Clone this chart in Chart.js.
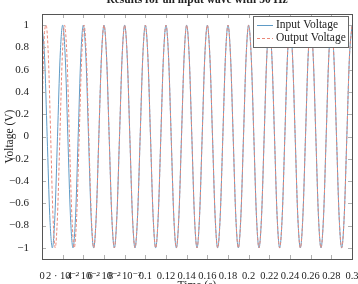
<!DOCTYPE html>
<html>
<head>
<meta charset="utf-8">
<script src="https://cdn.jsdelivr.net/npm/chart.js@4/dist/chart.umd.min.js"></script>
<style>
html,body{margin:0;padding:0;background:#fff;}
#wrap{width:358px;height:284px;position:relative;}
</style>
</head>
<body>
<div id="wrap"><canvas id="c" width="358" height="284"></canvas></div>
<script>
const chartTitle = "Results for an input wave with 50 Hz";
const xTitle = "Time (s)";
const yTitle = "Voltage (V)";
const seriesNames = ["Input Voltage", "Output Voltage"];

const xTicks = [0,0.02,0.04,0.06,0.08,0.1,0.12,0.14,0.16,0.18,0.2,0.22,0.24,0.26,0.28,0.3];
const xTickLabels = ["0","2 · 10⁻²","4 · 10⁻²","6 · 10⁻²","8 · 10⁻²","0.1","0.12","0.14","0.16","0.18","0.2","0.22","0.24","0.26","0.28","0.3"];
const yTicks = [-1,-0.8,-0.6,-0.4,-0.2,0,0.2,0.4,0.6,0.8,1];
const yTickLabels = ["−1","−0.8","−0.6","−0.4","−0.2","0","0.2","0.4","0.6","0.8","1"];

const inputTime = [
0,0.0025,0.005,0.0075,0.01,0.0125,0.015,0.0175,
0.02,0.0225,0.025,0.0275,0.03,0.0325,0.035,0.0375,
0.04,0.0425,0.045,0.0475,0.05,0.0525,0.055,0.0575,
0.06,0.0625,0.065,0.0675,0.07,0.0725,0.075,0.0775,
0.08,0.0825,0.085,0.0875,0.09,0.0925,0.095,0.0975,
0.1,0.1025,0.105,0.1075,0.11,0.1125,0.115,0.1175,
0.12,0.1225,0.125,0.1275,0.13,0.1325,0.135,0.1375,
0.14,0.1425,0.145,0.1475,0.15,0.1525,0.155,0.1575,
0.16,0.1625,0.165,0.1675,0.17,0.1725,0.175,0.1775,
0.18,0.1825,0.185,0.1875,0.19,0.1925,0.195,0.1975,
0.2,0.2025,0.205,0.2075,0.21,0.2125,0.215,0.2175,
0.22,0.2225,0.225,0.2275,0.23,0.2325,0.235,0.2375,
0.24,0.2425,0.245,0.2475,0.25,0.2525,0.255,0.2575,
0.26,0.2625,0.265,0.2675,0.27,0.2725,0.275,0.2775,
0.28,0.2825,0.285,0.2875,0.29,0.2925,0.295,0.2975,
0.3];
const inputVoltage = [
1,0.71,0,-0.71,-1,-0.71,0,0.71,
1,0.71,0,-0.71,-1,-0.71,0,0.71,
1,0.71,0,-0.71,-1,-0.71,0,0.71,
1,0.71,0,-0.71,-1,-0.71,0,0.71,
1,0.71,0,-0.71,-1,-0.71,0,0.71,
1,0.71,0,-0.71,-1,-0.71,0,0.71,
1,0.71,0,-0.71,-1,-0.71,0,0.71,
1,0.71,0,-0.71,-1,-0.71,0,0.71,
1,0.71,0,-0.71,-1,-0.71,0,0.71,
1,0.71,0,-0.71,-1,-0.71,0,0.71,
1,0.71,0,-0.71,-1,-0.71,0,0.71,
1,0.71,0,-0.71,-1,-0.71,0,0.71,
1,0.71,0,-0.71,-1,-0.71,0,0.71,
1,0.71,0,-0.71,-1,-0.71,0,0.71,
1,0.71,0,-0.71,-1,-0.71,0,0.71,
1];

const outputTime = [
0,0.001,0.002,0.003,0.004,0.0062,0.0084,0.0106,
0.0128,0.015,0.0173,0.0196,0.0218,0.0242,0.0265,0.0289,
0.0312,0.0336,0.036,0.0384,0.0407,0.043,0.0453,0.0477,
0.0501,0.0525,0.055,0.0575,
0.06,0.0625,0.065,0.0675,0.07,0.0725,0.075,0.0775,
0.08,0.0825,0.085,0.0875,0.09,0.0925,0.095,0.0975,
0.1,0.1025,0.105,0.1075,0.11,0.1125,0.115,0.1175,
0.12,0.1225,0.125,0.1275,0.13,0.1325,0.135,0.1375,
0.14,0.1425,0.145,0.1475,0.15,0.1525,0.155,0.1575,
0.16,0.1625,0.165,0.1675,0.17,0.1725,0.175,0.1775,
0.18,0.1825,0.185,0.1875,0.19,0.1925,0.195,0.1975,
0.2,0.2025,0.205,0.2075,0.21,0.2125,0.215,0.2175,
0.22,0.2225,0.225,0.2275,0.23,0.2325,0.235,0.2375,
0.24,0.2425,0.245,0.2475,0.25,0.2525,0.255,0.2575,
0.26,0.2625,0.265,0.2675,0.27,0.2725,0.275,0.2775,
0.28,0.2825,0.285,0.2875,0.29,0.2925,0.295,0.2975,
0.3];
const outputVoltage = [
0.2,0.55,0.86,0.98,1,0.71,0,-0.71,
-1,-0.71,0,0.71,1,0.71,0,-0.71,
-1,-0.71,0,0.71,1,0.71,0,-0.71,
-1,-0.71,0,0.71,
1,0.71,0,-0.71,-1,-0.71,0,0.71,
1,0.71,0,-0.71,-1,-0.71,0,0.71,
1,0.71,0,-0.71,-1,-0.71,0,0.71,
1,0.71,0,-0.71,-1,-0.71,0,0.71,
1,0.71,0,-0.71,-1,-0.71,0,0.71,
1,0.71,0,-0.71,-1,-0.71,0,0.71,
1,0.71,0,-0.71,-1,-0.71,0,0.71,
1,0.71,0,-0.71,-1,-0.71,0,0.71,
1,0.71,0,-0.71,-1,-0.71,0,0.71,
1,0.71,0,-0.71,-1,-0.71,0,0.71,
1,0.71,0,-0.71,-1,-0.71,0,0.71,
1,0.71,0,-0.71,-1,-0.71,0,0.71,
1];

const FONT = "'Liberation Serif', 'DejaVu Serif', serif";
const TXT = "#222";
const BLUE = "rgb(95,155,198)";
const RED = "rgb(234,135,120)";

const decor = {
  id: "decor",
  afterDraw(chart) {
    const ctx = chart.ctx;
    const a = chart.chartArea;
    const xs = chart.scales.x, ys = chart.scales.y;
    ctx.save();
    // inward ticks
    ctx.strokeStyle = "#b0b0b0";
    ctx.lineWidth = 1;
    ctx.beginPath();
    xs.ticks.forEach(t => {
      const px = Math.round(xs.getPixelForValue(t.value)) + 0.5;
      ctx.moveTo(px, a.bottom); ctx.lineTo(px, a.bottom - 4);
      ctx.moveTo(px, a.top); ctx.lineTo(px, a.top + 4);
    });
    ys.ticks.forEach(t => {
      const py = Math.round(ys.getPixelForValue(t.value)) + 0.5;
      ctx.moveTo(a.left, py); ctx.lineTo(a.left + 4, py);
      ctx.moveTo(a.right, py); ctx.lineTo(a.right - 4, py);
    });
    ctx.stroke();
    // frame
    ctx.strokeStyle = "#555";
    ctx.strokeRect(Math.round(a.left) + 0.5, Math.round(a.top) + 0.5,
                   Math.round(a.right - a.left), Math.round(a.bottom - a.top));
    // legend
    const lx = 253, ly = 16, lw = 95, lh = 31;
    ctx.fillStyle = "#fff";
    ctx.fillRect(lx, ly, lw, lh);
    ctx.strokeStyle = "#666";
    ctx.strokeRect(lx + 0.5, ly + 0.5, lw, lh);
    ctx.font = "11.5px " + FONT;
    ctx.textBaseline = "middle";
    ctx.textAlign = "left";
    chart.data.datasets.forEach((ds, i) => {
      const y = ly + 9 + i * 13;
      ctx.strokeStyle = ds.borderColor;
      ctx.setLineDash(ds.borderDash || []);
      ctx.beginPath();
      ctx.moveTo(lx + 4, y + 0.5); ctx.lineTo(lx + 20, y + 0.5);
      ctx.stroke();
      ctx.setLineDash([]);
      ctx.fillStyle = TXT;
      ctx.fillText(ds.label, lx + 23, y);
    });
    // titles
    ctx.fillStyle = TXT;
    ctx.textAlign = "center";
    ctx.textBaseline = "alphabetic";
    ctx.font = "bold 11.5px " + FONT;
    ctx.fillText(chartTitle, (a.left + a.right) / 2, 3);
    ctx.font = "11.5px " + FONT;
    ctx.fillText(xTitle, (a.left + a.right) / 2, 289);
    ctx.save();
    ctx.translate(10, (a.top + a.bottom) / 2);
    ctx.rotate(-Math.PI / 2);
    ctx.textBaseline = "middle";
    ctx.fillText(yTitle, 0, 0);
    ctx.restore();
    ctx.restore();
  }
};

new Chart(document.getElementById("c"), {
  type: "line",
  data: {
    datasets: [
      {
        label: seriesNames[0],
        data: inputTime.map((t, i) => ({x: t, y: inputVoltage[i]})),
        borderColor: BLUE, borderWidth: 1, pointRadius: 0,
        cubicInterpolationMode: "monotone", fill: false, order: 1
      },
      {
        label: seriesNames[1],
        data: outputTime.map((t, i) => ({x: t, y: outputVoltage[i]})),
        borderColor: RED, borderWidth: 1, borderDash: [3, 2], pointRadius: 0,
        cubicInterpolationMode: "monotone", fill: false, order: 0
      }
    ]
  },
  options: {
    responsive: false,
    animation: false,
    events: [],
    layout: { padding: { left: 0, right: 6, top: 14, bottom: 0 } },
    plugins: { legend: { display: false }, tooltip: { enabled: false }, title: { display: false } },
    scales: {
      x: {
        type: "linear", min: 0, max: 0.3,
        grid: { display: false }, border: { display: false },
        afterBuildTicks: s => { s.ticks = xTicks.map(v => ({value: v})); },
        afterFit: s => { s.height = 25; s.paddingLeft = 0; s.paddingRight = 0; },
        ticks: {
          autoSkip: false, maxRotation: 0, minRotation: 0, padding: 3,
          color: TXT, font: { family: FONT, size: 10.5 },
          callback: (v, i) => xTickLabels[i]
        }
      },
      y: {
        type: "linear", min: -1.1, max: 1.1,
        grid: { display: false }, border: { display: false },
        afterBuildTicks: s => { s.ticks = yTicks.map(v => ({value: v})); },
        afterFit: s => { s.width = 42; s.paddingTop = 0; s.paddingBottom = 0; },
        ticks: {
          padding: 5, color: TXT, font: { family: FONT, size: 11 },
          callback: (v, i) => yTickLabels[i]
        }
      }
    }
  },
  plugins: [decor]
});
</script>
</body>
</html>
